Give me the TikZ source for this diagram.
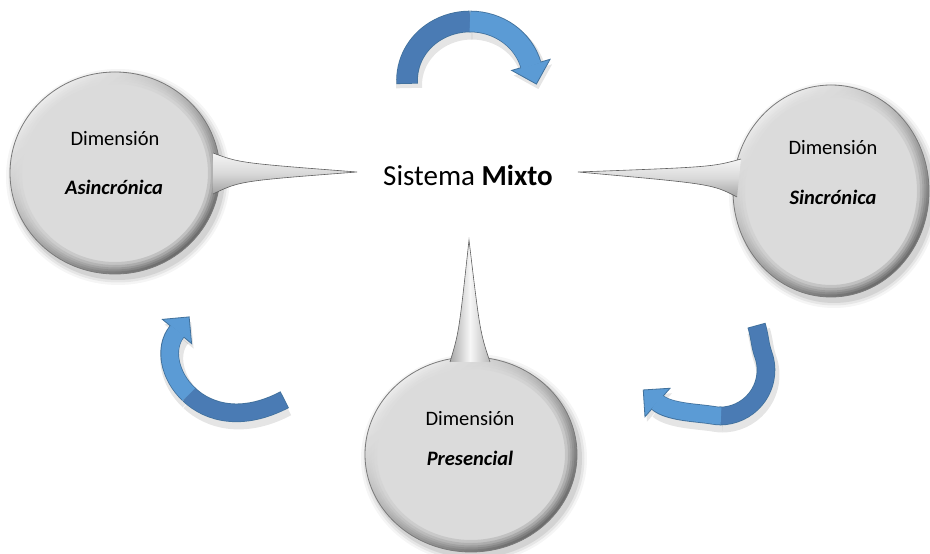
\documentclass[tikz,border=0pt]{standalone}
\usepackage{fontspec}
\setmainfont{Carlito}
\usetikzlibrary{calc}
\definecolor{bubc}{HTML}{DBDBDB}
\definecolor{bubm}{HTML}{CACACA}
\definecolor{bube}{HTML}{A8A8A8}
\definecolor{bubo}{HTML}{8C8C8C}
\definecolor{bubline}{HTML}{7A7A7A}
\definecolor{arrdark}{HTML}{4A7BB4}
\definecolor{arrlight}{HTML}{5B9BD5}
\definecolor{arrline}{HTML}{41719C}
\pgfdeclareradialshading{bubshade}{\pgfpoint{0bp}{0bp}}{color(0bp)=(bubc); color(36bp)=(bubc); color(44bp)=(bubm); color(48bp)=(bube); color(50bp)=(bubo)}
\newcommand{\bubble}[4]{%
  \foreach \k/\o in {7/0.04,4.5/0.06,2/0.08}{%
    \fill[black,opacity=\o] ({#1+3},{#2-4}) ellipse [x radius={#3+\k}, y radius={#4+\k}];}
  \path[shading=bubshade] (#1,#2) ellipse [x radius=#3, y radius=#4];
  \foreach \w in {12,9,6.5,4.5,2.5}{%
  \path[even odd rule, top color=white, bottom color=black, shading angle=40, fill opacity=.13]
    (#1,#2) ellipse [x radius=#3, y radius=#4] (#1,#2) ellipse [x radius={#3-\w}, y radius={#4-\w}];}
  \draw[bubline,line width=0.8] (#1,#2) ellipse [x radius=#3, y radius=#4];
}
% top arrow
\newcommand{\taA}[1]{\draw[#1] (407.09,470.94) arc[start angle=183,end angle=90,x radius=63,y radius=58.5];}
\newcommand{\taB}[1]{\draw[#1] (470,532.5) arc[start angle=90,end angle=15,x radius=63,y radius=58.5];}
\newcommand{\taH}[1]{\path[#1] (511.63,483.6) -- (536.39,469.92) -- (550.07,494.68) -- cycle;}
% lower-left arrow
\newcommand{\laA}[1]{\draw[#1] (284,154) .. controls (242,132) and (208.5,141) .. (188.9,159.6);}
\newcommand{\laB}[1]{\draw[#1] (188.9,159.6) .. controls (169.25,178.1) and (163.5,206.25) .. (177,222.5);}
\newcommand{\laH}[1]{\path[#1] (191.61,210.36) -- (189.14,237.11) -- (162.39,234.64) -- cycle;}
% lower-right arrow
\newcommand{\raA}[1]{\draw[#1] (756.7,228) .. controls (760,217) and (759.8,209.1) .. (763.2,199.7) arc[start angle=20,end angle=-90,radius=46];}
\newcommand{\raB}[1]{\draw[#1] (721,138) arc[start angle=-90,end angle=-100,radius=46] .. controls (698.2,141.3) and (668.75,141.6) .. (657.5,151.5);}
\newcommand{\raH}[1]{\path[#1] (670.04,165.75) -- (643.25,164.04) -- (644.96,137.25) -- cycle;}
\newcommand{\circarrow}[4]{% #1 A, #2 B, #3 H, #4 width
  #1{black,opacity=.10,line width={#4+6},shift={(2,-5)}}
  #2{black,opacity=.10,line width={#4+6},shift={(2,-5)}}
  #3{fill=black,opacity=.10,shift={(2,-5)}}
  #1{arrline,line width={#4+1.6},shorten <=-0.8}
  #2{arrline,line width={#4+1.6}}
  #3{fill=arrlight,draw=arrline,line width=0.8,line join=miter}
  #1{arrdark,line width=#4}
  #2{arrlight,line width=#4,shorten >=-1}
}
\tikzset{
  lbl/.style={font=\fontsize{20.5}{24}\selectfont, anchor=base, text=black},
  hortail/.style={top color=gray!8, bottom color=gray!72, middle color=gray!30},
  vertail/.style={left color=gray!68, right color=gray!55, middle color=gray!6},
  tailline/.style={draw=gray!75!black, line width=0.6}
}
\begin{document}
\begin{tikzpicture}[x=1pt,y=1pt]
\useasboundingbox (0,0) rectangle (930,554);
\fill[white] (0,0) rectangle (930,554);

% left bubble
\bubble{115}{381}{105}{101}
\path[hortail] (213,401) .. controls (240,391) .. (357,382) .. controls (240,373) .. (213,360) -- cycle;
\draw[tailline] (213,401) .. controls (240,391) .. (357,382) .. controls (240,373) .. (213,360);

% right bubble
\bubble{831}{363}{98}{106}
\path[hortail] (741,395) .. controls (712,387) .. (578,382) .. controls (712,370) .. (737,357) -- cycle;
\draw[tailline] (741,395) .. controls (712,387) .. (578,382) .. controls (712,370) .. (737,357);

% bottom bubble
\bubble{471}{99.5}{106}{97.5}
\path[vertail] (450,192) .. controls (459,222) .. (469,314) .. controls (480,222) .. (490,192) -- cycle;
\draw[tailline] (450,192) .. controls (459,222) .. (469,314) .. controls (480,222) .. (490,192);

% arrows
\circarrow{\taA}{\taB}{\taH}{20}
\circarrow{\laA}{\laB}{\laH}{17}
\circarrow{\raA}{\raB}{\raH}{17}

% texts
\node[lbl] (ldim) at (115,408) {Dimensión};
\node[lbl] (lasi) at (114,359) {\textbf{\textit{Asincrónica}}};
\node[lbl] (rdim) at (833,399) {Dimensión};
\node[lbl] (rsin) at (833,349) {\textbf{\textit{Sincrónica}}};
\node[lbl] (bdim) at (470,128) {Dimensión};
\node[lbl] (bpre) at (470,88) {\textbf{\textit{Presencial}}};
\node[font=\fontsize{29}{34}\selectfont, anchor=base] (mix) at (468,368) {Sistema \textbf{Mixto}};
\end{tikzpicture}
\end{document}
